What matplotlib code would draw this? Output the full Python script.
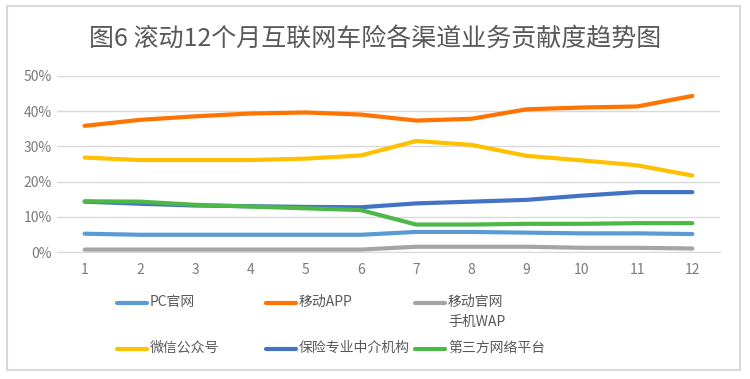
import matplotlib
matplotlib.use('Agg')
import matplotlib.pyplot as plt
from matplotlib.lines import Line2D
from matplotlib.patches import Rectangle
from matplotlib.ticker import FuncFormatter

plt.rcParams['font.family'] = ['Noto Sans CJK SC', 'DejaVu Sans']

months = [1, 2, 3, 4, 5, 6, 7, 8, 9, 10, 11, 12]
pc_web = [5.2, 4.9, 4.9, 4.9, 4.9, 4.9, 5.7, 5.7, 5.5, 5.3, 5.3, 5.1]
mobile_app = [35.8, 37.5, 38.5, 39.3, 39.6, 39.0, 37.3, 37.8, 40.5, 41.0, 41.3, 44.3]
mobile_wap = [0.7, 0.7, 0.7, 0.7, 0.7, 0.7, 1.5, 1.5, 1.5, 1.2, 1.2, 1.0]
wechat = [26.8, 26.1, 26.1, 26.1, 26.5, 27.4, 31.5, 30.4, 27.3, 26.0, 24.6, 21.7]
broker = [14.3, 13.7, 13.2, 13.0, 12.8, 12.7, 13.8, 14.3, 14.8, 16.0, 17.0, 17.0]
third_party = [14.4, 14.3, 13.4, 12.9, 12.4, 11.9, 7.8, 7.8, 8.0, 8.0, 8.2, 8.2]

labels = ['PC官网', '移动APP', '移动官网\n手机WAP', '微信公众号', '保险专业中介机构', '第三方网络平台']
colors = ['#5B9BD5', '#FF7300', '#A5A5A5', '#FFC000', '#4472C4', '#4DB848']
series = [pc_web, mobile_app, mobile_wap, wechat, broker, third_party]

fig = plt.figure(figsize=(7.5, 3.79), dpi=100)
ax = fig.add_axes([0.076, 0.335, 0.884, 0.465])

# draw order so that overlapping looks like the original
order = [0, 2, 4, 5, 3, 1]
for i in order:
    ax.plot(months, series[i], color=colors[i], lw=3, solid_capstyle='round', solid_joinstyle='round')

ax.set_xlim(0.5, 12.5)
ax.set_ylim(0, 50)
ax.set_yticks([0, 10, 20, 30, 40, 50])
ax.set_xticks(months)
ax.yaxis.set_major_formatter(FuncFormatter(lambda v, p: '%d%%' % v))
ax.grid(True, axis='y', color='#D9D9D9', lw=1)
ax.set_axisbelow(True)
for s in ['top', 'right', 'left']:
    ax.spines[s].set_visible(False)
ax.spines['bottom'].set_color('#D9D9D9')
ax.tick_params(axis='both', length=0, colors='#7A7A7A', labelsize=10)
ax.tick_params(axis='x', pad=8)

fig.text(0.5, 0.895, '图6 滚动12个月互联网车险各渠道业务贡献度趋势图', ha='center', va='center',
         fontsize=18, color='#595959')

# legend drawn manually to copy the layout
col_x = [117, 266, 415]
row_y = [303, 349]
for k, lab in enumerate(labels):
    r, c = divmod(k, 3)
    x0 = col_x[c]
    y0 = 379 - row_y[r]
    fig.add_artist(Line2D([x0 / 750, (x0 + 30) / 750], [y0 / 379, y0 / 379], color=colors[k], lw=3,
                          solid_capstyle='round', transform=fig.transFigure))
    fig.text((x0 + 33) / 750, (y0 + 8) / 379, lab, ha='left', va='top', fontsize=10, color='#595959',
             linespacing=1.5)

fig.add_artist(Rectangle((7 / 750, 9 / 379), 733 / 750, 364 / 379, fill=False, edgecolor='#D9D9D9',
                         lw=1.5, transform=fig.transFigure))

fig.savefig('out.png', dpi=100)
